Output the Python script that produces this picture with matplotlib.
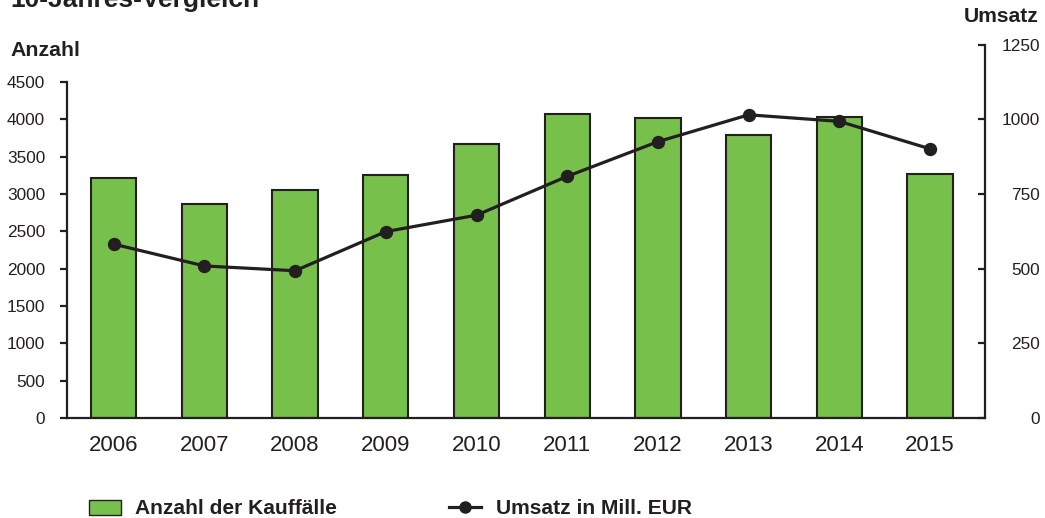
import numpy as np
import matplotlib
matplotlib.use('Agg')
import matplotlib.pyplot as plt
from matplotlib.patches import Patch
from matplotlib.lines import Line2D

plt.rcParams['font.family'] = ['Liberation Sans', 'DejaVu Sans']

years = ['2006', '2007', '2008', '2009', '2010', '2011', '2012', '2013', '2014', '2015']
anzahl = [3215, 2870, 3050, 3255, 3665, 4070, 4020, 3795, 4025, 3265]
umsatz = [582, 509, 493, 624, 679, 809, 925, 1015, 993, 901]

left_ticks = np.arange(0, 4501, 500)
right_ticks = np.arange(0, 1251, 250)

dark = '#231f20'
green = '#77c04b'

fig = plt.figure(figsize=(10.45, 5.18), dpi=100)
ax = fig.add_axes([67 / 1045, 100 / 518, (985 - 67) / 1045, (418 - 44.6) / 518])
x = np.arange(len(years))

ax.bar(x, anzahl, width=0.5, color=green, edgecolor=dark, linewidth=1.5, zorder=2)
ax.set_xlim(-0.515, 9.606)
ax.set_ylim(0, 5000)
ax.set_yticks(left_ticks)
ax.set_xticks(x)
ax.set_xticklabels(years)
ax.spines['top'].set_visible(False)
ax.spines['right'].set_visible(False)
ax.spines['left'].set_bounds(0, 4500)
for s in ['left', 'bottom']:
    ax.spines[s].set_linewidth(1.6)
    ax.spines[s].set_color(dark)
ax.tick_params(axis='y', direction='out', length=5, width=1.6, color=dark,
               labelsize=12.4, labelcolor=dark, pad=10.8)
ax.tick_params(axis='x', length=0, labelsize=16, labelcolor=dark, pad=12)

ax2 = ax.twinx()
ax2.plot(x, umsatz, color=dark, linewidth=2.3, marker='o', markersize=8.6, zorder=3)
ax2.set_ylim(0, 1250)
ax2.set_yticks(right_ticks)
for s in ['top', 'left', 'bottom']:
    ax2.spines[s].set_visible(False)
ax2.spines['right'].set_linewidth(1.6)
ax2.spines['right'].set_color(dark)
ax2.tick_params(axis='y', direction='in', length=5, width=1.6, color=dark,
                labelsize=12.4, labelcolor=dark, pad=39.6)
for lbl in ax2.get_yticklabels():
    lbl.set_horizontalalignment('right')

# headings (title is cut off at the top edge, as in the original)
fig.text(10 / 1045, 1 - 6.5 / 518, '10-Jahres-Vergleich', fontsize=19, fontweight='bold',
         color=dark, ha='left', va='baseline')
fig.text(10 / 1045, 1 - 50 / 518, 'Anzahl', fontsize=15.3, fontweight='bold',
         color=dark, ha='left', va='center')
fig.text(1039 / 1045, 1 - 17 / 518, 'Umsatz', fontsize=15.2, fontweight='bold',
         color=dark, ha='right', va='center')

# legend
h1 = Patch(facecolor=green, edgecolor=dark, linewidth=1.0)
h2 = Line2D([], [], color=dark, linewidth=2.3, marker='o', markersize=8)
leg1 = fig.legend([h1], ['Anzahl der Kauffälle'], loc='center left',
                  bbox_to_anchor=(89 / 1045, 1 - 509 / 518), frameon=False,
                  borderpad=0, borderaxespad=0, handlelength=1.52, handleheight=0.7,
                  handletextpad=0.66, prop={'size': 15.1, 'weight': 'bold'})
leg2 = fig.legend([h2], ['Umsatz in Mill. EUR'], loc='center left',
                  bbox_to_anchor=(449 / 1045, 1 - 509 / 518), frameon=False,
                  borderpad=0, borderaxespad=0, handlelength=1.52,
                  handletextpad=0.74, prop={'size': 15.1, 'weight': 'bold'})
for leg in (leg1, leg2):
    for t in leg.get_texts():
        t.set_color(dark)

fig.savefig('out.png', dpi=100)
